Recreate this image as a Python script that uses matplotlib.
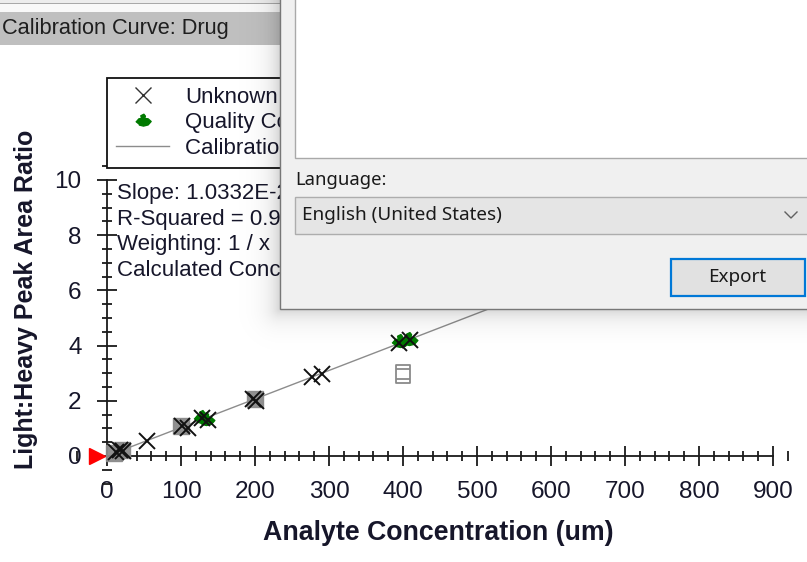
import numpy as np
import matplotlib
matplotlib.use("Agg")
import matplotlib.pyplot as plt
from matplotlib.path import Path
from matplotlib.patches import Rectangle
from matplotlib.lines import Line2D
from matplotlib.ticker import MultipleLocator

# ---- data -------------------------------------------------------------
std_conc = [10, 20, 100, 200]
std_ratio = [0.12, 0.22, 1.08, 2.08]
excluded_conc = [400]
excluded_ratio = [2.97]
unknown_conc = [12, 18, 22, 54, 101, 110, 129, 136, 197, 202, 277, 290, 395, 409]
unknown_ratio = [0.14, 0.20, 0.17, 0.56, 1.10, 1.03, 1.38, 1.30, 2.06, 2.00, 2.88, 2.97, 4.10, 4.20]
qc_conc = [128, 134, 396, 408]
qc_ratio = [1.37, 1.32, 4.12, 4.20]
blank_conc = [-14]
blank_ratio = [0.0]
slope = 1.0332e-2
intercept = 0.0
curve_range = [10, 900]

x_ticks = [0, 100, 200, 300, 400, 500, 600, 700, 800, 900]
y_ticks = [0, 2, 4, 6, 8, 10]

stats_lines = ["Slope: 1.0332E-2", "R-Squared = 0.9989",
               "Weighting: 1 / x", "Calculated Concentration"]
legend_labels = ["Unknown", "Quality Control", "Calibration Curve"]

# ---- figure -----------------------------------------------------------
W, H = 807, 562
plt.rcParams["font.family"] = ["Liberation Sans", "DejaVu Sans"]
fig = plt.figure(figsize=(W / 100, H / 100), dpi=100)
fig.patch.set_facecolor("white")

TXT = "#16162a"
XL, YL = (-40, 930), (-1.0, 10.5)
sx = (773 - 107) / 900.0
sy = (456 - 180) / 10.0
lp = 107 + XL[0] * sx
rp = 107 + XL[1] * sx
tp = 456 - YL[1] * sy
bp = 456 - YL[0] * sy
ax = fig.add_axes([lp / W, 1 - bp / H, (rp - lp) / W, (bp - tp) / H])
ax.set_xlim(*XL)
ax.set_ylim(*YL)
ax.patch.set_alpha(0)

for side in ("top", "right"):
    ax.spines[side].set_visible(False)
ax.spines["left"].set_position(("data", 0))
ax.spines["bottom"].set_position(("data", 0))
ax.spines["left"].set_bounds(0, 10)
ax.spines["bottom"].set_bounds(0, 900)
for side in ("left", "bottom"):
    ax.spines[side].set_linewidth(1.3)
    ax.spines[side].set_color("#1a1a1a")

ax.set_xticks(x_ticks)
ax.set_yticks(y_ticks)
ax.xaxis.set_minor_locator(MultipleLocator(20))
ax.yaxis.set_minor_locator(MultipleLocator(0.5))
ax.tick_params(which="major", direction="inout", length=14.4, width=1.3,
               color="#1a1a1a", labelsize=17.5, labelcolor=TXT)
ax.tick_params(axis="x", which="major", pad=11)
ax.tick_params(axis="y", which="major", pad=11)
ax.tick_params(which="minor", direction="inout", length=7.2, width=1.3,
               color="#1a1a1a")

# calibration curve
cx = np.array(curve_range, dtype=float)
ax.plot(cx, slope * cx + intercept, color="#8c8c8c", lw=1.0, zorder=2)

# standards
ax.plot(std_conc, std_ratio, ls="none", marker="s", markersize=11.5,
        mfc="#8a8a8a", mec="#8a8a8a", alpha=0.95, zorder=3)

excl_path = Path(
    [(-0.75, -1), (0.75, -1), (0.75, 1), (-0.75, 1), (-0.75, -1),
     (-0.75, 0.6), (0.75, 0.6), (-0.75, -0.55), (0.75, -0.55)],
    [Path.MOVETO, Path.LINETO, Path.LINETO, Path.LINETO, Path.CLOSEPOLY,
     Path.MOVETO, Path.LINETO, Path.MOVETO, Path.LINETO])
ax.plot(excluded_conc, excluded_ratio, ls="none", marker=excl_path,
        markersize=13, mfc="none", mec="#8a8a8a", mew=1.3, zorder=3)

# quality controls
qc_marker = [(-1.0, -0.1), (-0.6, 0.35), (-0.25, 0.4), (-0.35, 0.75),
             (0.05, 0.95), (0.25, 0.7), (0.15, 0.4), (0.6, 0.35),
             (1.0, 0.0), (0.6, -0.45), (0.0, -0.6), (-0.6, -0.45)]
ax.plot(qc_conc, qc_ratio, ls="none", marker=qc_marker, markersize=12,
        mfc="#007a00", mec="#007a00", zorder=4)

# unknowns
ax.plot(unknown_conc, unknown_ratio, ls="none", marker="x", markersize=11,
        mec="#111111", mew=1.4, zorder=5)

# blank marker
ax.plot(blank_conc, blank_ratio, ls="none", marker=">", markersize=12,
        mfc="#ff0000", mec="#ff0000", clip_on=False, zorder=6)

fig.text(438 / W, 1 - 533 / H, "Analyte Concentration (um)", ha="center",
         va="center", fontsize=19.3, fontweight="bold", color=TXT)
fig.text(26 / W, 1 - 299 / H, "Light:Heavy Peak Area Ratio", rotation=90,
         ha="center", va="center", fontsize=18, fontweight="bold", color=TXT)

# legend
handles = [
    Line2D([], [], ls="none", marker="x", markersize=11, mec="#333333", mew=1.0),
    Line2D([], [], ls="none", marker=qc_marker, markersize=11,
           mfc="#007a00", mec="#007a00"),
    Line2D([], [], color="#8c8c8c", lw=1.0),
]
leg = ax.legend(handles, legend_labels, loc="upper left",
                bbox_to_anchor=(107 / W, 1 - 78 / H),
                bbox_transform=fig.transFigure, borderaxespad=0,
                fontsize=16, frameon=True, fancybox=False, framealpha=1,
                edgecolor="#111111", handlelength=2.4, handletextpad=0.72,
                labelspacing=0.2, borderpad=0.4, labelcolor=TXT)
leg.get_frame().set_linewidth(1.3)

# fit statistics
for i, s in enumerate(stats_lines):
    fig.text(117 / W, 1 - (199 + 25.5 * i) / H, s, ha="left", va="baseline",
             fontsize=16, color=TXT)

# ---- window chrome (pixel coordinates) --------------------------------
ui = fig.add_axes([0, 0, 1, 1], zorder=10)
ui.set_xlim(0, W)
ui.set_ylim(H, 0)
ui.axis("off")
ui.patch.set_alpha(0)

# panel header
ui.add_patch(Rectangle((0, 0), 280, 3, fc="#ececec", ec="none"))
ui.add_patch(Rectangle((0, 3), 280, 1.2, fc="#a8a8a8", ec="none"))
ui.add_patch(Rectangle((0, 4.2), 280, 8, fc="#f8f8f8", ec="none"))
ui.add_patch(Rectangle((0, 12), 280, 33, fc="#bfbfbf", ec="none"))
ui.text(2, 28.5, "Calibration Curve: Drug", ha="left", va="center",
        fontsize=15.7, color="#1e1e1e")

# dialog shadow
yy, xx = np.mgrid[0:H, 0:W] + 0.5
d = np.hypot(np.clip(280 - xx, 0, None), np.clip(yy - 309, 0, None))
alpha = np.where(d > 0, 0.17 * np.exp(-d / 11.0), 0.0)
shadow = np.zeros((H, W, 4))
shadow[..., 3] = alpha
ui.imshow(shadow, extent=(0, W, H, 0), interpolation="bilinear", zorder=1)

# dialog body
ui.add_patch(Rectangle((280, -5), 540, 314, fc="#f0f0f0", ec="#777777",
                       lw=1.0, zorder=2))
ui.add_patch(Rectangle((294.5, -5), 530, 163, fc="white", ec="#a9a9a9",
                       lw=1.0, zorder=3))
UIF = ["Noto Sans", "DejaVu Sans"]
ui.text(295, 180, "Language:", ha="left", va="center", fontsize=13.3,
        color="#1a1a1a", family=UIF, zorder=4)
ui.add_patch(Rectangle((294.5, 196.5), 530, 37, fc="#e5e5e5", ec="#adadad",
                       lw=1.0, zorder=3))
ui.text(302, 215, "English (United States)", ha="left", va="center",
        fontsize=13.6, color="#1a1a1a", family=UIF, zorder=4)
ui.plot([785, 791, 797], [212, 218, 212], color="#606060", lw=1.0, zorder=4)
ui.add_patch(Rectangle((671, 259), 134, 37, fc="#e1e1e1", ec="#0078d7",
                       lw=1.6, zorder=3))
ui.text(737, 277.5, "Export", ha="center", va="center", fontsize=13.6,
        color="#1a1a1a", family=UIF, zorder=4)

fig.savefig("out.png", dpi=100)
